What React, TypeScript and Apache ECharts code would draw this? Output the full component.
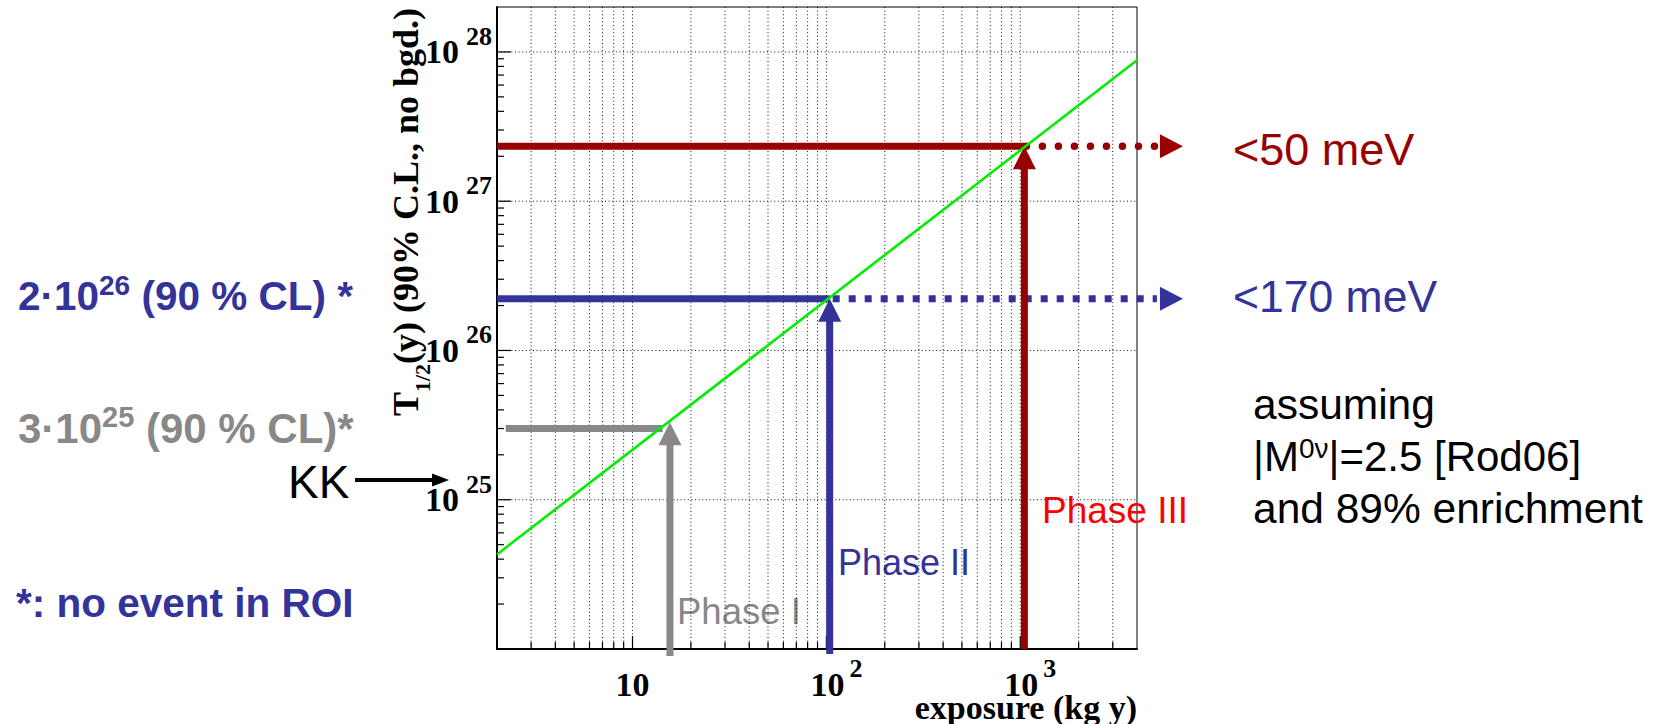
import React, { useEffect, useRef } from 'react';
import * as echarts from 'echarts';

// ---------- data ----------
const xRange = [2, 4000]; // exposure (kg y)
const yRange = [1e24, 2e28]; // T1/2 (y)
const xMajorLabels = [10, 100, 1000];
const yMajorLabels = [1e25, 1e26, 1e27, 1e28];
const xGridValues = [3, 4, 5, 6, 7, 8, 9, 10, 20, 30, 40, 50, 60, 70, 80, 90, 100, 200, 300, 400, 500, 600, 700, 800, 900, 1000, 2000, 3000];
const yTickValues = [
  2e24, 3e24, 4e24, 5e24, 6e24, 7e24, 8e24, 9e24, 1e25,
  2e25, 3e25, 4e25, 5e25, 6e25, 7e25, 8e25, 9e25, 1e26,
  2e26, 3e26, 4e26, 5e26, 6e26, 7e26, 8e26, 9e26, 1e27,
  2e27, 3e27, 4e27, 5e27, 6e27, 7e27, 8e27, 9e27, 1e28,
];

// sensitivity line (green)
const sensitivityExposure = [2, 4000];
const sensitivityHalfLife = [4.3e24, 8.8e27];

// phases
const phaseNames = ['Phase I', 'Phase II', 'Phase III'];
const phaseExposure = [15.6, 104, 1050];
const phaseTipHalfLife = [3.3e25, 2.22e26, 2.33e27];
const phaseLevelHalfLife = [3.0e25, 2.22e26, 2.33e27];
const phaseLevelStart = [2.22, 2, 2];
const phaseLevelEnd = [14.3, 104, 1050];
const phaseExtensionEnd = [null, 6900, 6900];
const phaseColors = ['#888888', '#333399', '#990000'];
const phaseTextColors = ['#888888', '#333399', '#ff0000'];

const SERIF = 'Liberation Serif';
const SANS = 'Liberation Sans';

function isPow10(v: number) {
  const e = Math.log10(v);
  return Math.abs(e - Math.round(e)) < 1e-6;
}

export default function App() {
  const ref = useRef<HTMLDivElement>(null);

  useEffect(() => {
    if (!ref.current) return;
    const chart = echarts.init(ref.current, null, { renderer: 'svg' });

    const gridXSeries = {
      type: 'custom',
      silent: true,
      clip: false,
      z: 1,
      data: xGridValues.map((v) => [v, 1e26]),
      renderItem: (params: any, api: any) => {
        const v = api.value(0);
        const b = api.coord([v, yRange[0]]);
        const t = api.coord([v, yRange[1]]);
        const major = isPow10(v);
        return {
          type: 'group',
          children: [
            {
              type: 'line',
              shape: { x1: b[0], y1: t[1], x2: b[0], y2: b[1] },
              style: { stroke: '#111', lineWidth: 1, lineDash: [1, 2.6] },
            },
            {
              type: 'line',
              shape: { x1: b[0], y1: b[1], x2: b[0], y2: b[1] - (major ? 13 : 7) },
              style: { stroke: '#000', lineWidth: 1.2 },
            },
          ],
        };
      },
    };

    const gridYSeries = {
      type: 'custom',
      silent: true,
      clip: false,
      z: 1,
      data: yTickValues.map((v) => [10, v]),
      renderItem: (params: any, api: any) => {
        const v = api.value(1);
        const l = api.coord([xRange[0], v]);
        const r = api.coord([xRange[1], v]);
        const major = isPow10(v);
        const children: any[] = [
          {
            type: 'line',
            shape: { x1: l[0], y1: l[1], x2: l[0] + (major ? 14 : 7), y2: l[1] },
            style: { stroke: '#000', lineWidth: 1.2 },
          },
        ];
        if (major) {
          children.push({
            type: 'line',
            shape: { x1: l[0], y1: l[1], x2: r[0], y2: r[1] },
            style: { stroke: '#111', lineWidth: 1, lineDash: [1, 2.6] },
          });
        }
        return { type: 'group', children };
      },
    };

    const phaseSeries = {
      type: 'custom',
      silent: true,
      clip: false,
      z: 4,
      data: phaseExposure.map((x, i) => [x, phaseTipHalfLife[i]]),
      renderItem: (params: any, api: any) => {
        const i = params.dataIndex;
        const color = phaseColors[i];
        const tip = api.coord([phaseExposure[i], phaseTipHalfLife[i]]);
        const base = api.coord([phaseExposure[i], yRange[0]]);
        const hs = api.coord([phaseLevelStart[i], phaseLevelHalfLife[i]]);
        const he = api.coord([phaseLevelEnd[i], phaseLevelHalfLife[i]]);
        const shaftExtra = [7, 5, 0][i];
        const children: any[] = [
          {
            type: 'line',
            shape: { x1: hs[0], y1: hs[1], x2: he[0], y2: he[1] },
            style: { stroke: color, lineWidth: 7 },
          },
          {
            type: 'line',
            shape: { x1: tip[0], y1: base[1] + shaftExtra, x2: tip[0], y2: tip[1] + 20 },
            style: { stroke: color, lineWidth: 7 },
          },
          {
            type: 'polygon',
            shape: { points: [[tip[0], tip[1]], [tip[0] - 11.5, tip[1] + 23], [tip[0] + 11.5, tip[1] + 23]] },
            style: { fill: color },
          },
        ];
        const ext = phaseExtensionEnd[i];
        if (ext != null) {
          const ee = api.coord([ext, phaseLevelHalfLife[i]]);
          const dotted = i === 2;
          children.push({
            type: 'line',
            shape: { x1: he[0] + (dotted ? 2 : 3), y1: he[1], x2: ee[0] - 26, y2: ee[1] },
            style: dotted
              ? { stroke: color, lineWidth: 7.5, lineDash: [0.01, 16], lineCap: 'round' }
              : { stroke: color, lineWidth: 7, lineDash: [7, 9], lineCap: 'butt' },
          });
          children.push({
            type: 'polygon',
            shape: { points: [[ee[0], ee[1]], [ee[0] - 23, ee[1] - 12], [ee[0] - 23, ee[1] + 12]] },
            style: { fill: color },
          });
        }
        return { type: 'group', children };
      },
    };

    const sensitivitySeries = {
      type: 'line',
      silent: true,
      z: 5,
      showSymbol: false,
      symbol: 'none',
      data: sensitivityExposure.map((x, i) => [x, sensitivityHalfLife[i]]),
      lineStyle: { color: '#00ee00', width: 2.6 },
    };

    const serifBold = { fontFamily: SERIF, fontWeight: 'bold', color: '#000' };

    const graphic: any[] = [
      // y axis title
      {
        type: 'text',
        x: 406,
        y: 212,
        rotation: Math.PI / 2,
        style: {
          text: '{t|T}{sub|1/2}{t|(y) (90% C.L., no bgd.)}',
          align: 'center',
          verticalAlign: 'middle',
          rich: {
            t: { fontFamily: SERIF, fontWeight: 'bold', fontSize: 36, fill: '#000', verticalAlign: 'middle' },
            sub: { fontFamily: SERIF, fontWeight: 'bold', fontSize: 22, fill: '#000', verticalAlign: 'bottom', height: 4 },
          },
        },
      },
      // x axis title
      {
        type: 'text',
        x: 1137,
        y: 707,
        style: {
          text: 'exposure (kg y)',
          fontFamily: SERIF,
          fontWeight: 'bold',
          fontSize: 34,
          fill: '#000',
          align: 'right',
          verticalAlign: 'middle',
        },
      },
      // left annotations
      {
        type: 'text',
        x: 18,
        y: 296,
        style: {
          text: '{b|2·10}{s|26}{b| (90 % CL) *}',
          align: 'left',
          verticalAlign: 'middle',
          rich: {
            b: { fontFamily: SANS, fontWeight: 'bold', fontSize: 40.5, fill: '#333399', verticalAlign: 'middle' },
            s: { fontFamily: SANS, fontWeight: 'bold', fontSize: 28, fill: '#333399', verticalAlign: 'top', height: 20 },
          },
        },
      },
      {
        type: 'text',
        x: 18,
        y: 428,
        style: {
          text: '{b|3·10}{s|25}{b| (90 % CL)*}',
          align: 'left',
          verticalAlign: 'middle',
          rich: {
            b: { fontFamily: SANS, fontWeight: 'bold', fontSize: 42, fill: '#888888', verticalAlign: 'middle' },
            s: { fontFamily: SANS, fontWeight: 'bold', fontSize: 29, fill: '#888888', verticalAlign: 'top', height: 20 },
          },
        },
      },
      {
        type: 'text',
        x: 288,
        y: 482,
        style: { text: 'KK', fontFamily: SANS, fontSize: 46, fill: '#000', align: 'left', verticalAlign: 'middle' },
      },
      {
        type: 'line',
        shape: { x1: 355, y1: 480, x2: 436, y2: 480 },
        style: { stroke: '#000', lineWidth: 4 },
      },
      {
        type: 'polygon',
        shape: { points: [[449, 480], [432, 473.5], [432, 486.5]] },
        style: { fill: '#000' },
      },
      {
        type: 'text',
        x: 16,
        y: 603,
        style: { text: '*: no event in ROI', fontFamily: SANS, fontWeight: 'bold', fontSize: 40.5, fill: '#333399', align: 'left', verticalAlign: 'middle' },
      },
      // right annotations
      {
        type: 'text',
        x: 1233,
        y: 149,
        style: { text: '<50 meV', fontFamily: SANS, fontSize: 45, fill: '#990000', align: 'left', verticalAlign: 'middle' },
      },
      {
        type: 'text',
        x: 1233,
        y: 296,
        style: { text: '<170 meV', fontFamily: SANS, fontSize: 44.5, fill: '#333399', align: 'left', verticalAlign: 'middle' },
      },
      {
        type: 'text',
        x: 1253,
        y: 404,
        style: { text: 'assuming', fontFamily: SANS, fontSize: 42.5, fill: '#000', align: 'left', verticalAlign: 'middle' },
      },
      {
        type: 'text',
        x: 1253,
        y: 456,
        style: {
          text: '{b||M}{s|0ν}{b||=2.5 [Rod06]}',
          align: 'left',
          verticalAlign: 'middle',
          rich: {
            b: { fontFamily: SANS, fontSize: 42, fill: '#000', verticalAlign: 'middle' },
            s: { fontFamily: SANS, fontSize: 28, fill: '#000', verticalAlign: 'top', height: 26 },
          },
        },
      },
      {
        type: 'text',
        x: 1253,
        y: 508,
        style: { text: 'and 89% enrichment', fontFamily: SANS, fontSize: 42.5, fill: '#000', align: 'left', verticalAlign: 'middle' },
      },
      // phase labels
      {
        type: 'text',
        x: 1042,
        y: 510,
        style: { text: phaseNames[2], fontFamily: SANS, fontSize: 37, fill: phaseTextColors[2], align: 'left', verticalAlign: 'middle' },
      },
      {
        type: 'text',
        x: 838,
        y: 562,
        style: { text: phaseNames[1], fontFamily: SANS, fontSize: 36, fill: phaseTextColors[1], align: 'left', verticalAlign: 'middle' },
      },
      {
        type: 'text',
        x: 677,
        y: 611,
        style: { text: phaseNames[0], fontFamily: SANS, fontSize: 36.5, fill: phaseTextColors[0], align: 'left', verticalAlign: 'middle' },
      },
    ];

    const option: any = {
      animation: false,
      backgroundColor: '#ffffff',
      grid: {
        left: 497,
        right: 1659 - 1137,
        top: 7,
        bottom: 724 - 649,
        show: true,
        borderColor: '#000',
        borderWidth: 1,
        backgroundColor: 'transparent',
      },
      xAxis: {
        type: 'log',
        logBase: 10,
        min: xRange[0],
        max: xRange[1],
        axisLine: { show: true, lineStyle: { color: '#000', width: 2 } },
        axisTick: { show: false },
        splitLine: { show: false },
        axisLabel: {
          interval: 0,
          margin: 18,
          formatter: (v: number) => {
            if (!isPow10(v)) return '';
            const e = Math.round(Math.log10(v));
            if (!xMajorLabels.includes(Math.pow(10, e))) return '';
            return e === 1 ? '{b|10}' : `{p|10}{s|${e}}`;
          },
          rich: {
            b: { ...serifBold, fontSize: 34, verticalAlign: 'middle' },
            p: { ...serifBold, fontSize: 34, verticalAlign: 'middle', padding: [0, 0, 0, 20] },
            s: { ...serifBold, fontSize: 26, verticalAlign: 'top', height: 2, padding: [0, 0, 0, 5] },
          },
        },
      },
      yAxis: {
        type: 'log',
        logBase: 10,
        min: yRange[0],
        max: yRange[1],
        axisLine: { show: true, lineStyle: { color: '#000', width: 2 } },
        axisTick: { show: false },
        splitLine: { show: false },
        axisLabel: {
          interval: 0,
          margin: 5,
          formatter: (v: number) => {
            if (!isPow10(v)) return '';
            const e = Math.round(Math.log10(v));
            if (!yMajorLabels.some((m) => Math.abs(Math.log10(m) - e) < 1e-6)) return '';
            return `{b|10}{s|${e}}`;
          },
          rich: {
            b: { ...serifBold, fontSize: 34, verticalAlign: 'middle' },
            s: { ...serifBold, fontSize: 26, verticalAlign: 'top', height: 3, padding: [0, 0, 0, 7] },
          },
        },
      },
      series: [gridXSeries, gridYSeries, phaseSeries, sensitivitySeries],
      graphic,
    };

    chart.setOption(option);
    return () => {
      chart.dispose();
    };
  }, []);

  return (
    <div
      ref={ref}
      style={{ position: 'fixed', left: 0, top: 0, width: 1659, height: 724, background: '#fff' }}
    />
  );
}
